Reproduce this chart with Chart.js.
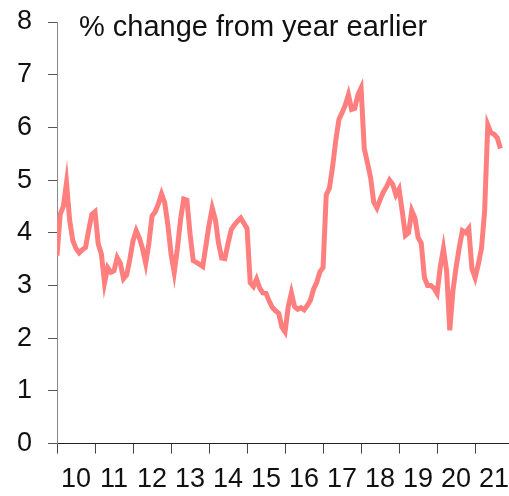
<!DOCTYPE html>
<html>
<head>
<meta charset="utf-8">
<script src="https://cdn.jsdelivr.net/npm/chart.js@4.4.1/dist/chart.umd.min.js"></script>
<style>
  html, body { margin: 0; padding: 0; background: #fff; overflow: hidden; }
  #wrap { width: 509px; height: 496px; }
</style>
</head>
<body>
<div id="wrap"><canvas id="chart-cpi"></canvas></div>
<script>
// % change from year earlier, monthly, Jan 2010 .. Sep 2021
const y2010 = [3.57, 4.35, 4.5, 4.95, 4.23, 3.85, 3.7, 3.62, 3.68, 3.72, 4.05, 4.35];
const y2011 = [4.4, 3.79, 3.6, 3.05, 3.34, 3.25, 3.28, 3.53, 3.42, 3.13, 3.2, 3.5];
const y2012 = [3.85, 4.04, 3.9, 3.7, 3.42, 3.8, 4.32, 4.4, 4.55, 4.74, 4.57, 4.15];
const y2013 = [3.6, 3.25, 3.7, 4.25, 4.64, 4.62, 3.98, 3.47, 3.44, 3.4, 3.36, 3.75];
const y2014 = [4.15, 4.47, 4.25, 3.8, 3.52, 3.51, 3.8, 4.06, 4.15, 4.22, 4.28, 4.18];
const y2015 = [4.08, 3.05, 2.98, 3.12, 2.95, 2.86, 2.85, 2.7, 2.58, 2.52, 2.47, 2.21];
const y2016 = [2.12, 2.6, 2.86, 2.6, 2.55, 2.58, 2.54, 2.62, 2.72, 2.93, 3.06, 3.26];
const y2017 = [3.34, 4.72, 4.85, 5.25, 5.75, 6.15, 6.28, 6.42, 6.62, 6.34, 6.36, 6.62];
const y2018 = [6.75, 5.6, 5.33, 5.05, 4.58, 4.47, 4.63, 4.77, 4.87, 5.0, 4.92, 4.72];
const y2019 = [4.83, 4.4, 3.95, 4.0, 4.42, 4.28, 3.91, 3.8, 3.15, 3.0, 3.0, 2.95];
const y2020 = [2.85, 3.35, 3.7, 3.28, 2.15, 2.9, 3.35, 3.72, 4.04, 4.0, 4.08, 3.32];
const y2021 = [3.15, 3.4, 3.7, 4.4, 6.05, 5.9, 5.87, 5.8, 5.6];

const yearLabels = ['10', '11', '12', '13', '14', '15', '16', '17', '18', '19', '20', '21'];
const yTicks = [0, 1, 2, 3, 4, 5, 6, 7, 8];
const titleText = '% change from year earlier';

const values = [].concat(y2010, y2011, y2012, y2013, y2014, y2015,
                         y2016, y2017, y2018, y2019, y2020, y2021);
const points = values.map((v, i) => ({ x: i, y: v }));

const yearStarts = yearLabels.map((l, i) => i * 12);
const yearMids = yearLabels.map((l, i) => i * 12 + 6);

const FONT = "'Liberation Sans', Arial, sans-serif";
const xMax = 142.7;

// title sits inside the plot, top left
const titlePlugin = {
    id: 'insideTitle',
    afterDraw(chart) {
        const ctx = chart.ctx;
        ctx.save();
        ctx.font = '29px ' + FONT;
        ctx.fillStyle = '#111';
        ctx.textBaseline = 'alphabetic';
        ctx.fillText(titleText, chart.chartArea.left + 22, chart.chartArea.top + 14);
        ctx.restore();
    }
};

// let the x axis run to the right edge like the original
function noSidePadding(s) {
    s.paddingLeft = 0;
    s.paddingRight = 0;
}

var ctx = document.getElementById('chart-cpi').getContext('2d');
var chart_cpi = new Chart(ctx, {
    type: 'line',
    data: {
        datasets: [{
            label: 'cpi',
            data: points,
            borderColor: '#ff7f7f',
            backgroundColor: '#ff7f7f',
            borderWidth: 5,
            pointRadius: 0,
            tension: 0,
            fill: false
        }]
    },
    options: {
        responsive: true,
        maintainAspectRatio: false,
        animation: false,
        layout: {
            padding: { top: 22, left: 1, right: 0, bottom: -2 }
        },
        plugins: {
            legend: { display: false },
            tooltip: { enabled: false }
        },
        scales: {
            x: {
                type: 'linear',
                position: 'bottom',
                min: 0,
                max: xMax,
                afterBuildTicks: s => { s.ticks = yearStarts.map(v => ({ value: v })); },
                afterFit: noSidePadding,
                ticks: { display: false },
                grid: { drawOnChartArea: false, tickLength: 10, color: '#444' },
                border: { color: '#222', width: 1 }
            },
            xLab: {
                type: 'linear',
                position: 'bottom',
                min: 0,
                max: xMax,
                afterBuildTicks: s => { s.ticks = yearMids.map(v => ({ value: v })); },
                afterFit: noSidePadding,
                ticks: {
                    autoSkip: false,
                    maxRotation: 0,
                    padding: 2,
                    color: '#111',
                    font: { family: FONT, size: 27 },
                    callback: (v, i) => yearLabels[i]
                },
                grid: { display: false },
                border: { display: false }
            },
            y: {
                min: 0,
                max: 8,
                afterBuildTicks: s => { s.ticks = yTicks.map(v => ({ value: v })); },
                // tick padding would otherwise push the top of the plot down
                afterFit: s => { s.paddingTop = 0; s.paddingBottom = 0; },
                ticks: {
                    padding: 16,
                    color: '#111',
                    font: { family: FONT, size: 27 }
                },
                grid: { drawOnChartArea: false, tickLength: 9, color: '#555' },
                border: { color: '#888', width: 1 }
            }
        }
    },
    plugins: [titlePlugin]
});
</script>
</body>
</html>
